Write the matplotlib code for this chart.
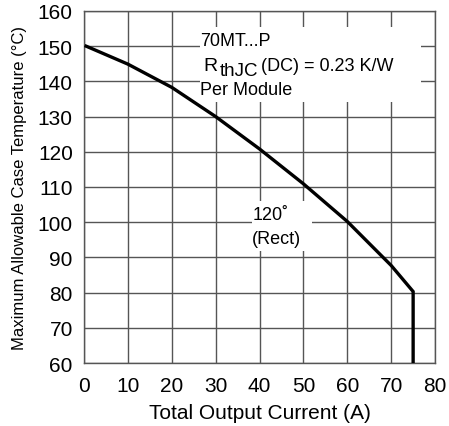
import matplotlib
matplotlib.use('Agg')
import matplotlib.pyplot as plt
from matplotlib.patches import Rectangle

plt.rcParams['font.family'] = ['Liberation Sans', 'DejaVu Sans']

# ---- data ----
current = [0.5, 10, 20, 30, 40, 50, 60, 70, 75, 75]
temp = [150, 144.9, 138.3, 130, 120.8, 110.9, 100.2, 87.7, 80.3, 60]

x_ticks = [0, 10, 20, 30, 40, 50, 60, 70, 80]
y_ticks = [60, 70, 80, 90, 100, 110, 120, 130, 140, 150, 160]

fig = plt.figure(figsize=(4.49, 4.27), dpi=100)
ax = fig.add_axes([0.187, 0.1475, 0.782, 0.8245])

ax.set_xlim(0, 80)
ax.set_ylim(60, 160)
ax.set_xticks(x_ticks)
ax.set_yticks(y_ticks)
ax.tick_params(length=0, labelsize=15, colors='black')
ax.tick_params(axis='y', pad=8)
ax.tick_params(axis='x', pad=9)
ax.grid(True, color='#555555', linewidth=1.0, zorder=1)
ax.set_axisbelow(True)
for s in ax.spines.values():
    s.set_color('#555555')
    s.set_linewidth(1.0)

# white patches behind the annotation text (they hide the grid)
ax.add_patch(Rectangle((26.4, 134.1), 50.4, 21.4, facecolor='white',
                       edgecolor='none', zorder=2))
ax.add_patch(Rectangle((38.3, 91.8), 13.7, 14.2, facecolor='white',
                       edgecolor='none', zorder=2))

ax.plot(current, temp, color='black', linewidth=2.4, zorder=3,
        solid_joinstyle='miter')

fs = 13
ax.text(26.4, 151.5, '70MT...P', fontsize=fs, va='center', ha='left', zorder=4)
ax.text(27.3, 144.5, 'R', fontsize=fs + 1, va='center', ha='left', zorder=4)
ax.text(31.0, 143.2, 'thJC', fontsize=fs + 0.5, va='center', ha='left', zorder=4)
ax.text(40.4, 144.5, '(DC) = 0.23 K/W', fontsize=fs, va='center', ha='left',
        zorder=4)
ax.text(26.4, 137.8, 'Per Module', fontsize=fs, va='center', ha='left', zorder=4)
ax.text(42.6, 102.3, '120˚', fontsize=fs, va='center', ha='center', zorder=4)
ax.text(43.8, 95.5, '(Rect)', fontsize=fs, va='center', ha='center', zorder=4)

ax.set_xlabel('Total Output Current (A)', fontsize=15, labelpad=6)
ax.set_ylabel('Maximum Allowable Case Temperature (°C)', fontsize=12, labelpad=8)

fig.savefig('out.png', dpi=100)
